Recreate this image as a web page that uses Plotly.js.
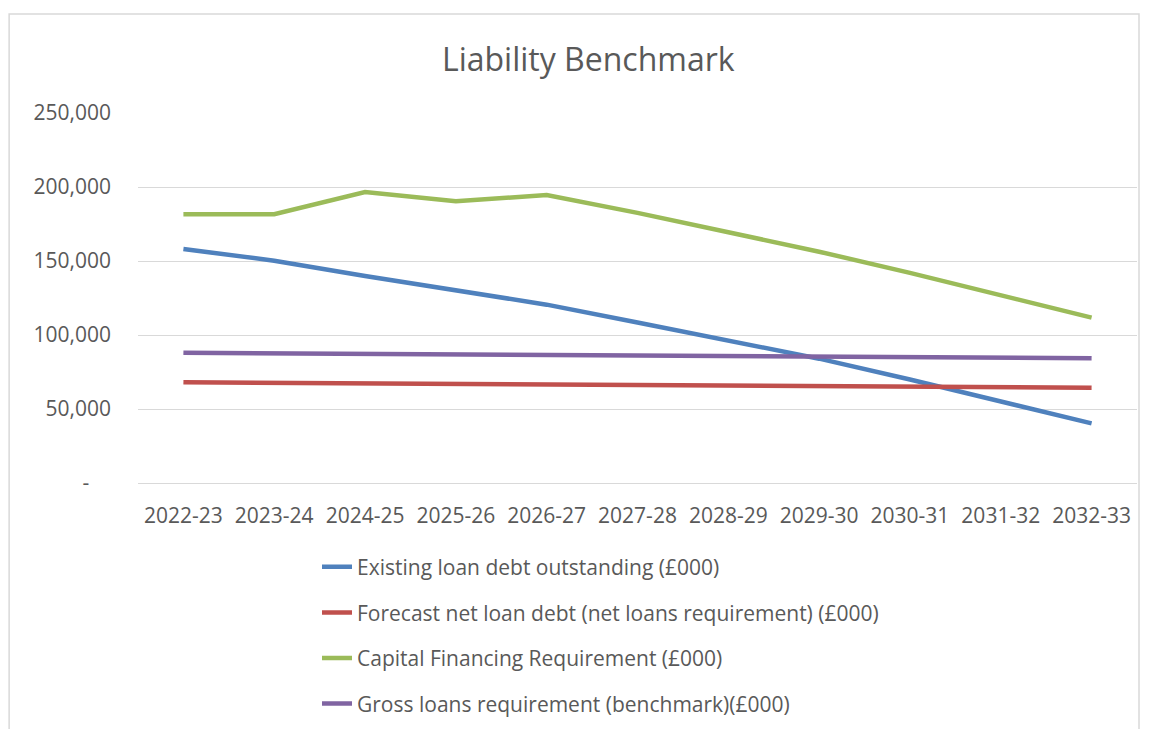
<!DOCTYPE html>
<html>
<head>
<meta charset="utf-8">
<script src="https://cdn.plot.ly/plotly-3.0.1.min.js"></script>
<style>html,body{margin:0;padding:0;background:#fff;}#chart{width:1149px;height:729px;}</style>
</head>
<body>
<div id="chart"></div>
<script>
const years = ["2022-23","2023-24","2024-25","2025-26","2026-27","2027-28","2028-29","2029-30","2030-31","2031-32","2032-33"];
const existingDebt = [158100,150200,139900,130400,120500,108500,96200,84000,69900,55100,40300];
const netLoanDebt = [68000,67600,67300,66900,66600,66200,65800,65500,65100,64800,64400];
const cfr = [181600,181600,196600,190300,194600,182500,169400,156300,142000,126800,111700];
const grossLoans = [88000,87600,87300,86900,86500,86200,85800,85400,85100,84700,84300];
const seriesNames = [
  "Existing loan debt outstanding (£000)",
  "Forecast net loan debt (net loans requirement) (£000)",
  "Capital Financing Requirement (£000)",
  "Gross loans requirement (benchmark)(£000)"
];
const yTickVals = [0,50000,100000,150000,200000,250000];
const yTickText = ["-\u00a0\u00a0\u00a0\u00a0","50,000","100,000","150,000","200,000","250,000"];

const colors = ["#4F81BD","#C0504D","#9BBB59","#8064A2"];
const values = [existingDebt, netLoanDebt, cfr, grossLoans];
const font = "'Open Sans', sans-serif";

const traces = values.map((v,i)=>({
  type:"scatter", mode:"lines", x:years, y:v, name:seriesNames[i],
  legendgroup:"g"+i,
  line:{color:colors[i], width:4.5},
  hoverinfo:"skip"
}));

const layout = {
  width:1149, height:729,
  margin:{l:138, r:12, t:113, b:246, autoexpand:false},
  paper_bgcolor:"#ffffff", plot_bgcolor:"#ffffff",
  font:{family:font, color:"#595959"},
  title:{text:"Liability Benchmark", font:{family:font, size:32, color:"#595959"}, x:0.512, xanchor:"center", y:0.918, yanchor:"middle", automargin:false},
  xaxis:{type:"category", range:[-0.5,10.5], showgrid:false, zeroline:false, showline:true, linecolor:"#d9d9d9", linewidth:1,
         ticks:"", tickfont:{family:font, size:21, color:"#595959"}, ticklabelstandoff:14, fixedrange:true, automargin:false},
  yaxis:{range:[0,250000], tickvals:yTickVals, ticktext:yTickText, showgrid:true, gridcolor:"#d9d9d9", gridwidth:1,
         zeroline:false, showline:false, ticks:"", tickfont:{family:font, size:21, color:"#595959"}, ticklabelstandoff:26, fixedrange:true, automargin:false},
  showlegend:true,
  legend:{x:(317 - 138) / 999, xanchor:"left", y:-0.172, yanchor:"top", traceorder:"grouped", tracegroupgap:15.3,
          font:{family:font, size:21, color:"#595959"}, bgcolor:"rgba(0,0,0,0)"},
  shapes:[{type:"rect", xref:"paper", yref:"paper", x0:-0.129, x1:1.002, y0:-0.75, y1:1.2676,
           line:{color:"#d9d9d9", width:1.5}, fillcolor:"rgba(0,0,0,0)", layer:"below"}]
};

Plotly.newPlot("chart", traces, layout, {displayModeBar:false, staticPlot:true});
</script>
</body>
</html>
